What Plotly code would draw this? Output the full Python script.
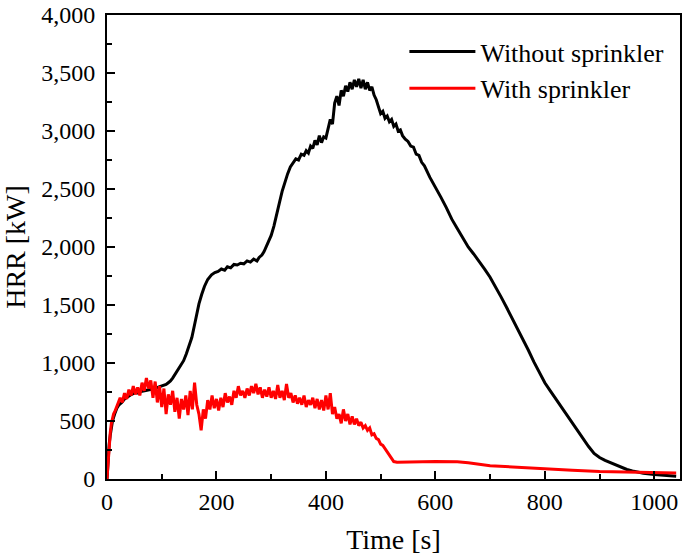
import plotly.graph_objects as go

# Without sprinkler (time [s], HRR [kW])
t_without = [0, 2, 4, 6, 8, 10, 14, 18, 22, 27, 32, 38, 45, 52, 57, 62, 68, 74, 80, 88, 95, 102, 108, 112, 116, 120, 124, 128, 132, 136, 140, 145, 150, 155, 160, 164, 168, 173, 178, 184, 191, 197, 203, 209, 215, 220, 226, 232, 238, 244, 250, 256, 262, 268, 274, 278, 283, 287, 291, 295, 300, 305, 310, 315, 320, 325, 330, 335, 340, 345, 350, 355, 360, 364, 368, 372, 376, 380, 384, 388, 392, 396, 400, 404, 408, 412, 416, 420, 424, 428, 432, 436, 440, 444, 448, 452, 456, 460, 464, 468, 472, 476, 480, 484, 488, 492, 496, 500, 504, 508, 512, 516, 520, 524, 528, 532, 536, 540, 545, 550, 555, 560, 565, 570, 575, 580, 590, 600, 610, 620, 630, 640, 650, 660, 670, 680, 690, 700, 710, 720, 730, 740, 750, 760, 770, 780, 790, 800, 810, 820, 830, 840, 850, 860, 870, 880, 890, 900, 910, 920, 930, 940, 950, 960, 980, 1000, 1020, 1040]
hrr_without = [0, 180, 300, 380, 450, 500, 560, 610, 640, 660, 690, 710, 730, 745, 740, 755, 760, 765, 775, 780, 795, 805, 815, 830, 845, 870, 900, 930, 960, 990, 1020, 1080, 1150, 1220, 1330, 1420, 1510, 1590, 1660, 1720, 1760, 1780, 1790, 1810, 1800, 1830, 1820, 1850, 1845, 1860, 1855, 1880, 1870, 1895, 1880, 1910, 1930, 1960, 2000, 2040, 2100, 2180, 2270, 2380, 2480, 2560, 2630, 2690, 2730, 2760, 2750, 2800, 2790, 2830, 2810, 2870, 2850, 2920, 2880, 2960, 2900, 2950, 2940, 3010, 3100, 3060, 3240, 3300, 3220, 3350, 3300, 3390, 3340, 3420, 3360, 3440, 3380, 3450, 3370, 3440, 3360, 3420, 3350, 3380, 3310, 3270, 3200, 3150, 3170, 3110, 3130, 3080, 3100, 3040, 3060, 3000, 3010, 2960, 2930, 2910, 2870, 2860, 2800, 2790, 2730, 2700, 2600, 2520, 2430, 2340, 2240, 2160, 2080, 2000, 1940, 1880, 1810, 1740, 1660, 1570, 1480, 1390, 1300, 1210, 1110, 1010, 920, 830, 760, 690, 630, 560, 490, 420, 350, 280, 220, 185, 160, 140, 118, 98, 82, 70, 50, 38, 30, 24]

# With sprinkler (time [s], HRR [kW])
t_with = [0, 2, 4, 6, 8, 10, 12, 15, 18, 20, 24, 28, 32, 36, 40, 44, 48, 52, 56, 60, 64, 68, 72, 76, 80, 84, 88, 92, 96, 100, 104, 108, 112, 116, 120, 124, 128, 132, 136, 140, 144, 148, 152, 156, 160, 164, 168, 172, 176, 180, 184, 188, 192, 196, 200, 204, 208, 212, 216, 220, 224, 228, 232, 236, 240, 244, 248, 252, 256, 260, 264, 268, 272, 276, 280, 284, 288, 292, 296, 300, 304, 308, 312, 316, 320, 324, 328, 332, 336, 340, 344, 348, 352, 356, 360, 364, 368, 372, 376, 380, 384, 388, 392, 396, 400, 404, 408, 412, 416, 420, 424, 428, 432, 436, 440, 444, 448, 452, 456, 460, 464, 468, 472, 476, 480, 484, 488, 492, 496, 500, 504, 508, 512, 516, 520, 524, 530, 560, 600, 640, 660, 700, 750, 800, 850, 900, 950, 1000, 1040]
hrr_with = [0, 150, 300, 400, 480, 530, 560, 590, 620, 650, 700, 660, 740, 690, 770, 720, 800, 730, 790, 720, 830, 760, 870, 780, 850, 700, 840, 660, 800, 620, 780, 560, 730, 640, 760, 580, 700, 520, 690, 600, 720, 550, 760, 600, 830, 640, 560, 420, 600, 520, 680, 600, 720, 610, 690, 590, 700, 620, 740, 660, 710, 640, 760, 700, 800, 720, 760, 700, 780, 720, 800, 740, 820, 730, 790, 700, 770, 710, 790, 700, 760, 690, 810, 700, 760, 680, 820, 700, 740, 660, 720, 650, 700, 640, 720, 620, 680, 640, 700, 610, 690, 600, 680, 590, 720, 600, 740, 560, 620, 520, 560, 480, 600, 500, 560, 470, 540, 470, 520, 460, 490, 440, 460, 420, 440, 380, 390, 350, 340, 300, 290, 260, 240, 210, 170, 150, 145, 148, 150, 148, 140, 115, 100, 85, 75, 65, 60, 57, 52]

series_names = ["Without sprinkler", "With sprinkler"]
series_colors = ["#000000", "#ff0000"]

FONT = "Liberation Serif, Times New Roman, serif"

fig = go.Figure()
fig.add_trace(go.Scatter(x=t_without, y=hrr_without, mode="lines", name=series_names[0],
                         line=dict(color=series_colors[0], width=3)))
fig.add_trace(go.Scatter(x=t_with, y=hrr_with, mode="lines", name=series_names[1],
                         line=dict(color=series_colors[1], width=3)))

axis_common = dict(
    showline=True, linecolor="black", linewidth=2, mirror=True,
    ticks="inside", ticklen=8, tickwidth=2, tickcolor="black",
    showgrid=False, zeroline=False, ticklabeloverflow="allow",
    tickfont=dict(family=FONT, size=24, color="black"),
)

fig.update_xaxes(
    range=[0, 1047], dtick=200, tickformat="d",
    minor=dict(ticks="inside", ticklen=5, tickwidth=2, dtick=100, tickcolor="black", showgrid=False),
    title=dict(text="Time [s]", font=dict(family=FONT, size=28, color="black"), standoff=16),
    **axis_common,
)
fig.update_yaxes(
    range=[0, 4000], dtick=500, tickformat=",d", ticklabelstandoff=5,
    minor=dict(ticks="inside", ticklen=5, tickwidth=2, dtick=250, tickcolor="black", showgrid=False),
    title=dict(text="HRR [kW]", font=dict(family=FONT, size=28, color="black"), standoff=16),
    **axis_common,
)

fig.update_layout(
    width=685, height=556,
    margin=dict(l=107, r=5, t=15, b=77, autoexpand=False),
    plot_bgcolor="white", paper_bgcolor="white",
    font=dict(family=FONT, color="black"),
    legend=dict(x=0.519, y=0.972, xanchor="left", yanchor="top",
                bgcolor="rgba(255,255,255,1)", borderwidth=0,
                font=dict(family=FONT, size=26, color="black"),
                tracegroupgap=0, itemwidth=66),
    showlegend=True,
)

fig.write_html("out.html", config={"displayModeBar": False},
               post_script="document.body.style.margin='0';document.body.style.padding='0';")
